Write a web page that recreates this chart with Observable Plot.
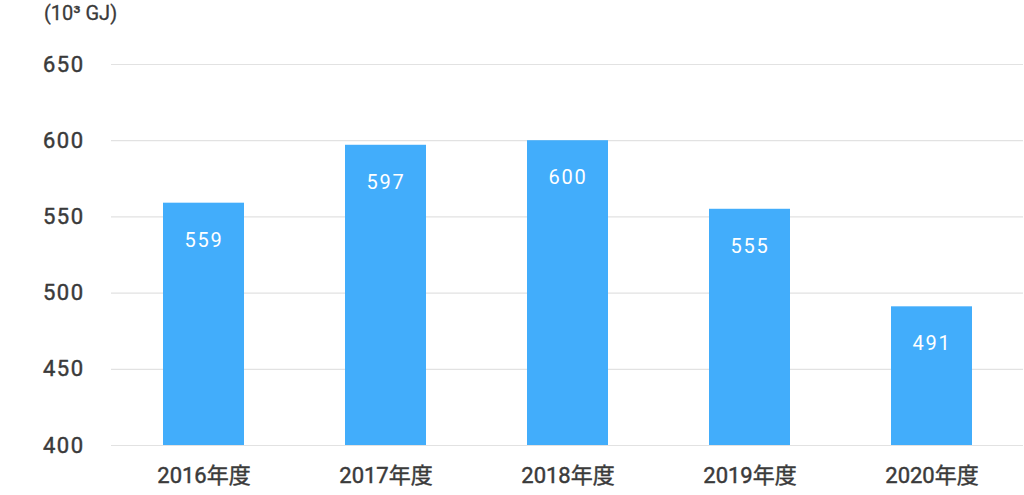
<!DOCTYPE html>
<html>
<head>
<meta charset="utf-8">
<script src="https://cdn.jsdelivr.net/npm/d3@7"></script>
<script src="https://cdn.jsdelivr.net/npm/@observablehq/plot@0.6"></script>
<style>
  html, body { margin: 0; padding: 0; background: #fff; }
  #chart svg { display: block; }
  .vlabel text { letter-spacing: 1.8px; }
</style>
</head>
<body>
<div id="chart"></div>
<script>
const years = ["2016年度", "2017年度", "2018年度", "2019年度", "2020年度"];
const values = [559, 597, 600, 555, 491];
const yTicks = [400, 450, 500, 550, 600, 650];
const unitLabel = "(10³ GJ)";

const data = years.map((y, i) => ({year: y, value: values[i]}));
const font = "Roboto, 'Noto Sans CJK JP', sans-serif";

const chart = Plot.plot({
  width: 1024,
  height: 495,
  marginTop: 64,
  marginBottom: 50,
  marginLeft: 111,
  marginRight: 1,
  style: {fontFamily: font, background: "#fff", overflow: "visible"},
  x: {domain: years, paddingInner: 0.555, paddingOuter: 0.2775, align: 0.5, label: null},
  y: {domain: [400, 650], label: null},
  marks: [
    Plot.gridY(yTicks, {stroke: "#e2e2e2", strokeOpacity: 1, strokeWidth: 1.2}),
    Plot.barY(data, {x: "year", y1: 400, y2: "value", fill: "#42adfb"}),
    Plot.text(data, {x: "year", y: "value", text: d => String(d.value), dy: 37, fill: "#fff", fontSize: 20, fontWeight: 400, lineAnchor: "middle", className: "vlabel"}),
    Plot.axisY(yTicks, {tickSize: 0, tickPadding: 27, fontSize: 22, fontWeight: 400, fill: "#3a3a3a", textStroke: "#3a3a3a", textStrokeWidth: 0.45, label: null}),
    Plot.axisX({tickSize: 0, tickPadding: 22, fontSize: 22, fontWeight: 400, fill: "#3a3a3a", textStroke: "#3a3a3a", textStrokeWidth: 0.45, label: null}),
    Plot.text([unitLabel], {frameAnchor: "top-left", dx: -31, dy: -51, fontSize: 20, fontWeight: 400, fill: "#3a3a3a", stroke: "#3a3a3a", strokeWidth: 0.3, lineAnchor: "middle", textAnchor: "middle"})
  ]
});
d3.select(chart).selectAll('g[aria-label="y-axis tick label"] text').style("letter-spacing", "1.5px");
document.getElementById("chart").append(chart);
</script>
</body>
</html>
